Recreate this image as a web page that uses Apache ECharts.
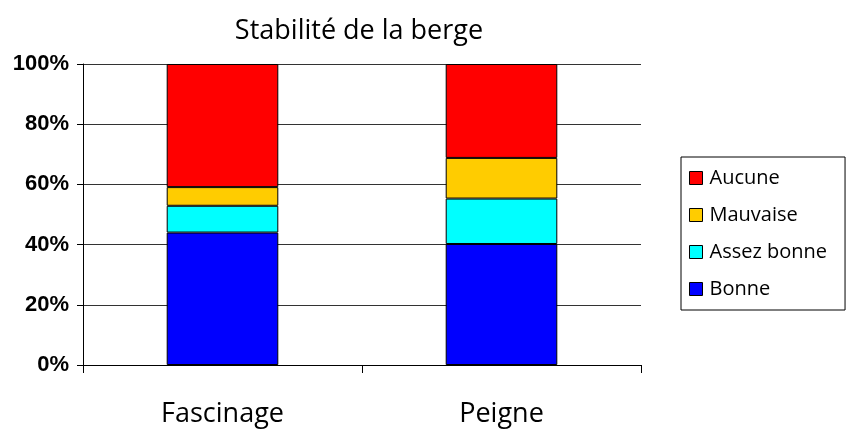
<!DOCTYPE html>
<html>
<head>
<meta charset="utf-8">
<script src="https://cdn.jsdelivr.net/npm/echarts@6/dist/echarts.min.js"></script>
<style>
  html, body { margin: 0; padding: 0; background: #fff; }
  #chart { width: 847px; height: 430px; }
</style>
</head>
<body>
<div id="chart"></div>
<script>
const categories = ['Fascinage', 'Peigne']
const bonne = [44, 40.2]
const assezBonne = [8.9, 15.1]
const mauvaise = [6.2, 13.5]
const aucune = [40.9, 31.2]
const yTicks = [0, 20, 40, 60, 80, 100]

const labelFont = '"Open Sans", "DejaVu Sans", sans-serif'

const bar = (name, data, color) => ({
  name,
  type: 'bar',
  stack: 'total',
  data,
  barWidth: '40%',
  itemStyle: { color, borderColor: '#000', borderWidth: 1 },
  emphasis: { disabled: true },
})

const chart = echarts.init(document.getElementById('chart'))
chart.setOption({
  animation: false,
  title: {
    text: 'Stabilité de la berge',
    left: 354,
    textAlign: 'center',
    top: 13,
    textStyle: { fontFamily: labelFont, fontSize: 27, fontWeight: 'normal', color: '#000' },
  },
  legend: {
    orient: 'vertical',
    left: 681,
    top: 157,
    padding: [11, 18, 11, 8],
    itemGap: 17,
    itemWidth: 13,
    itemHeight: 13,
    icon: 'rect',
    borderColor: '#000',
    borderWidth: 1,
    data: ['Aucune', 'Mauvaise', 'Assez bonne', 'Bonne'],
    itemStyle: { borderColor: '#000', borderWidth: 1 },
    textStyle: { fontFamily: labelFont, fontSize: 20, color: '#000', padding: [0, 0, 0, 2] },
  },
  grid: { left: 83, right: 206, top: 64, bottom: 65 },
  xAxis: {
    type: 'category',
    data: categories,
    axisLine: { lineStyle: { color: '#000', width: 1 } },
    axisTick: { show: true, length: 8, lineStyle: { color: '#000' } },
    axisLabel: { margin: 36, fontFamily: labelFont, fontSize: 27, color: '#000' },
  },
  yAxis: {
    type: 'value',
    min: 0,
    max: 100,
    interval: 20,
    axisLine: { show: true, lineStyle: { color: '#000', width: 1 } },
    axisTick: { show: true, length: 6, lineStyle: { color: '#000' } },
    axisLabel: {
      margin: 14,
      fontFamily: '"Liberation Sans", Arial, sans-serif',
      fontSize: 22,
      fontWeight: 'bold',
      color: '#000',
      formatter: v => (yTicks.includes(v) ? v + '%' : ''),
    },
    splitLine: { show: true, lineStyle: { color: '#333', width: 1 } },
  },
  series: [
    bar('Bonne', bonne, '#0000ff'),
    bar('Assez bonne', assezBonne, '#00ffff'),
    bar('Mauvaise', mauvaise, '#ffcc00'),
    bar('Aucune', aucune, '#ff0000'),
  ],
})
</script>
</body>
</html>
